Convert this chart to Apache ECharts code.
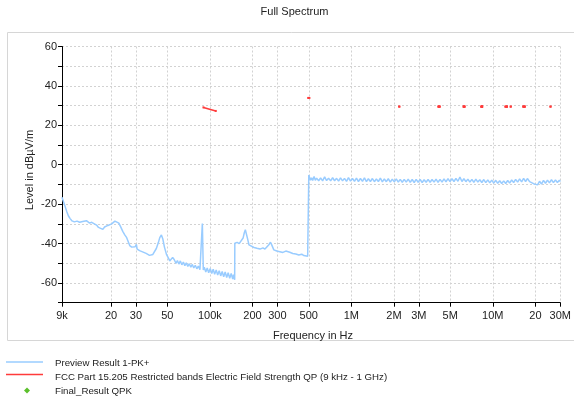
<!DOCTYPE html>
<html><head><meta charset="utf-8">
<script src="https://cdn.jsdelivr.net/npm/echarts@6/dist/echarts.min.js"></script>
<style>html,body{margin:0;padding:0;background:#fff}#c{width:574px;height:401px}</style>
</head><body><div id="c"></div>
<script>
// Preview Result 1-PK+ (frequency in kHz, level in dBuV/m)
const previewFreqKHz = [
 9.0,9.15,9.3,9.5,9.75,10.0,10.25,10.6,11.0,11.5,12.0,12.6,13.0,13.4,14.1,14.6,15.0,15.8,16.3,16.7,17.5,18.0,18.4,19.0,19.6,20.2,20.6,21.3,22.0,22.7,23.4,24.2,25.0,25.8,26.3,26.6,27.1,28.0,28.9,29.6,30.2,30.6,31.8,33.4,34.4,35.4,36.4,37.4,38.6,39.5,40.5,41.8,43.2,44.2,45.4,46.4,47.7,49.3,50.9,52.0,53.4,54.5,56.0,57.5,58.9,60.3,61.8,63.3,64.9,66.5,68.1,69.8,71.5,73.3,75.1,76.9,78.8,80.8,82.8,85.0,87.8,88.4,89.2,89.8,
 91.2,93.5,95.7,98.0,100.5,103.0,105.5,108.0,110.8,113.5,116.3,119.2,122.1,125.1,128.2,131.4,134.6,138.0,141.4,144.9,147.0,149.6,
 150.0,155.8,161,166,171.6,175,178,181,184.5,189,195,205,215,226,237,245,253,261,268,274,283,297,312,328,344,352,367,385,405,425,446,461,476,491,499,
 500,506,515,524,533,545,556,568,587,606,626,647,668,690,713,737,761,786,812,838,866,894,924,954,986,
 1018,1052,1086,1122,1159,1198,1237,1278,1319,1363,1408,1455,1502,1552,1603,1656,1710,1767,1824,1885,1946,2011,2077,2146,2215,2289,2364,2442,2522,2606,2691,2780,2871,2966,
 3063,3165,3268,3377,3486,3602,3720,3843,3969,4100,4235,4375,4518,4667,4820,4980,5143,5313,5487,5668,5854,6048,6246,6452,6664,6884,7110,7345,7586,7837,8094,8361,8636,8921,9213,9518,9830,
 10150,10490,10830,11190,11560,11940,12330,12740,13160,13590,14040,14500,14980,15470,15980,16510,17050,17610,18190,18790,19410,20050,20710,21390,22100,22820,23570,24350,25150,25980,26840,27720,28630,29570,30000
];
const previewLevel = [
 -16.5,-18,-19.5,-21.5,-24,-26,-27.2,-28.5,-29,-28.6,-29.2,-28.8,-29.4,-28.4,-29.6,-29.2,-30.2,-30.6,-31.8,-31.2,-32.8,-31.6,-32.2,-30.8,-31.2,-30.0,-30.6,-28.6,-28.2,-29.6,-31.5,-33.8,-35.6,-37.0,-36.0,-37.8,-41.0,-41.8,-42.6,-41.6,-40.4,-42.8,-43.6,-44.2,-44.8,-45.0,-45.6,-46.0,-46.2,-45.5,-44.6,-42.5,-39.5,-37.0,-35.6,-37.5,-41.8,-45.5,-47.4,-48.8,-47.8,-47.0,-48.2,-50.0,-48.6,-50.4,-48.8,-50.8,-49.4,-51.2,-49.8,-51.6,-50.2,-52.0,-50.6,-52.4,-51.0,-52.8,-51.4,-53.2,-52.6,-29.8,-30.5,-53.4,
 -52.0,-54.4,-52.4,-54.8,-52.6,-55.2,-53.0,-55.6,-53.4,-56.0,-53.8,-56.4,-54.2,-56.8,-54.4,-57.2,-54.8,-57.6,-55.2,-58.0,-55.8,-58.4,
 -39.8,-39.4,-40.0,-39.6,-37.2,-34.5,-33.0,-33.8,-37.5,-40.7,-41.6,-42.0,-42.4,-42.8,-42.2,-42.8,-42.0,-40.6,-39.3,-40.8,-43.2,-43.8,-44.1,-44.5,-43.8,-43.4,-44.4,-45.0,-45.3,-45.8,-45.4,-46.1,-45.7,-46.4,-46.6,
 -5.2,-6.4,-7.8,-6.6,-8.0,-5.9,-7.9,-6.8,-8.1,-6.7,-8.2,-6.2,-8.0,-6.8,-8.2,-6.6,-8.1,-6.9,-8.3,-6.7,-8.2,-6.9,-8.4,-6.5,-8.3,
 -7.0,-8.4,-6.8,-8.5,-7.0,-8.4,-6.7,-8.6,-7.1,-8.5,-7.0,-8.6,-7.2,-8.5,-6.8,-8.7,-7.2,-8.6,-7.1,-8.8,-7.3,-8.7,-7.2,-8.8,-7.4,-8.9,-7.4,-8.8,-7.3,-8.9,-7.5,-9.0,-7.4,-8.9,
 -7.5,-9.0,-7.6,-8.9,-7.4,-8.9,-7.5,-8.8,-7.3,-8.9,-7.4,-8.8,-7.2,-8.7,-7.0,-8.6,-7.1,-8.5,-6.9,-8.4,-6.2,-8.5,-7.1,-8.6,-7.3,-8.8,-7.4,-8.9,-7.3,-8.8,-7.6,-9.0,-7.5,-9.1,-7.7,-9.2,-7.8,
 -9.3,-7.9,-9.4,-8.1,-9.5,-8.2,-9.5,-8.0,-9.3,-7.7,-9.0,-7.4,-8.8,-7.2,-8.7,-6.9,-8.5,-7.0,-8.6,-7.6,-9.6,-8.6,-10.2,-8.4,-9.8,-7.9,-9.4,-7.8,-9.2,-7.6,-9.1,-7.7,-9.0,-7.8,-8.6
];
// FCC Part 15.205 restricted bands (start/end kHz) and limit levels (dBuV/m)
const limitBandsKHz = [[90,110],[495,505],[2173.5,2190.5],[4125,4128],[4177.25,4177.75],[4207.25,4207.75],[6215,6218],[6267.75,6268.25],[6311.75,6312.25],[8291,8294],[8362,8366],[8376.25,8386.75],[8414.25,8414.75],[12290,12293],[12519.75,12520.25],[12576.75,12577.25],[13360,13410],[16420,16423],[16694.75,16695.25],[16804.25,16804.75],[25500,25670]];
const limitLevels = [[29.1,27.3],[33.9,33.9],[29.5,29.5],[29.5,29.5],[29.5,29.5],[29.5,29.5],[29.5,29.5],[29.5,29.5],[29.5,29.5],[29.5,29.5],[29.5,29.5],[29.5,29.5],[29.5,29.5],[29.5,29.5],[29.5,29.5],[29.5,29.5],[29.5,29.5],[29.5,29.5],[29.5,29.5],[29.5,29.5],[29.5,29.5]];
// Final_Result QPK (none visible)
const finalFreqKHz = [];
const finalLevel = [];
// Axis ticks
const xTickValues = [9000,20000,30000,50000,100000,200000,300000,500000,1000000,2000000,3000000,5000000,10000000,20000000,30000000];
const xTickLabels = ['9k','20','30','50','100k','200','300','500','1M','2M','3M','5M','10M','20','30M'];
const yMin = -70, yMax = 60, yStep = 10, yLabelStep = 20;

const FONT = "'Liberation Sans', Arial, sans-serif";
const BLUE = '#99ccff', RED = '#ff3b3b', GREEN = '#5cc02c';

const chart = echarts.init(document.getElementById('c'), null, {renderer: 'canvas'});

const series = [];
series.push({
  type: 'line', name: 'Preview Result 1-PK+', showSymbol: false, silent: true,
  lineStyle: {color: BLUE, width: 1.5}, z: 3,
  data: previewFreqKHz.map((f, i) => [f * 1000, previewLevel[i]])
});
limitBandsKHz.forEach((b, i) => {
  series.push({
    type: 'line', silent: true, z: 4,
    showSymbol: true, symbol: 'rect', symbolSize: 2,
    itemStyle: {color: RED, borderWidth: 0},
    lineStyle: {color: RED, width: 1.6},
    data: [[b[0] * 1000, limitLevels[i][0]], [b[1] * 1000, limitLevels[i][1]]]
  });
});
series.push({
  type: 'scatter', name: 'Final_Result QPK', symbol: 'diamond', symbolSize: 6,
  itemStyle: {color: GREEN}, data: finalFreqKHz.map((f, i) => [f * 1000, finalLevel[i]])
});

function xLabel(v) {
  for (let i = 0; i < xTickValues.length; i++) {
    if (Math.abs(Math.log10(v / xTickValues[i])) < 1e-4) return xTickLabels[i];
  }
  return '';
}

const txt = {fontFamily: FONT, fontSize: 11, fill: '#222'};
const lg = {fontFamily: FONT, fontSize: 9.7, fill: '#222', verticalAlign: 'middle'};

chart.setOption({
  animation: false,
  backgroundColor: '#fff',
  grid: {left: 62, right: 11, top: 46.5, bottom: 98.3, containLabel: false},
  xAxis: {
    type: 'log', logBase: 10, min: 9000, max: 30000000,
    axisLine: {show: true, onZero: false, lineStyle: {color: '#000', width: 1}},
    axisTick: {show: true, length: 4, customValues: xTickValues, lineStyle: {color: '#000'}},
    axisLabel: {customValues: xTickValues, formatter: xLabel, margin: 8, color: '#222', fontFamily: FONT, fontSize: 11, showMinLabel: true, showMaxLabel: true},
    splitLine: {show: true, lineStyle: {color: '#d2d2d2', type: [2, 2], width: 1}},
    minorTick: {show: false}, minorSplitLine: {show: false}
  },
  yAxis: {
    type: 'value', min: yMin, max: yMax, interval: yStep,
    axisLine: {show: true, onZero: false, lineStyle: {color: '#000', width: 1}},
    axisTick: {show: true, length: 4, lineStyle: {color: '#000'}},
    axisLabel: {margin: 5, color: '#222', fontFamily: FONT, fontSize: 11,
      formatter: v => (Math.round(v) % yLabelStep === 0 ? String(Math.round(v)) : '')},
    splitLine: {show: true, lineStyle: {color: '#d2d2d2', type: [2, 2], width: 1}}
  },
  series: series,
  graphic: [
    {type: 'rect', shape: {x: 7.5, y: 32.5, width: 590, height: 308}, style: {fill: 'none', stroke: '#d6d6d6', lineWidth: 1}, silent: true, z: -10},
    {type: 'text', x: 294.5, y: 11.5, style: Object.assign({}, txt, {text: 'Full Spectrum', align: 'center', verticalAlign: 'middle'})},
    {type: 'text', x: 30, y: 170, rotation: Math.PI / 2, style: Object.assign({}, txt, {text: 'Level in dBµV/m', align: 'center', verticalAlign: 'middle'})},
    {type: 'text', x: 313, y: 335.5, style: Object.assign({}, txt, {text: 'Frequency in Hz', align: 'center', verticalAlign: 'middle'})},
    {type: 'line', shape: {x1: 6, y1: 362, x2: 43, y2: 362}, style: {stroke: BLUE, lineWidth: 1.5}},
    {type: 'line', shape: {x1: 6, y1: 374.5, x2: 43, y2: 374.5}, style: {stroke: RED, lineWidth: 1.5}},
    {type: 'polygon', shape: {points: [[27, 387.5], [30, 390.5], [27, 393.5], [24, 390.5]]}, style: {fill: GREEN}},
    {type: 'text', x: 55, y: 363.5, style: Object.assign({}, lg, {text: 'Preview Result 1-PK+'})},
    {type: 'text', x: 55, y: 377, style: Object.assign({}, lg, {text: 'FCC Part 15.205 Restricted bands Electric Field Strength QP (9 kHz - 1 GHz)'})},
    {type: 'text', x: 55, y: 391, style: Object.assign({}, lg, {text: 'Final_Result QPK'})}
  ]
});
</script>
</body></html>
